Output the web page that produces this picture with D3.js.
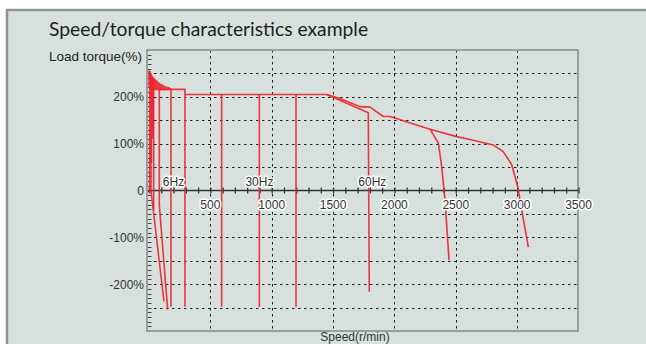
<!DOCTYPE html>
<html><head><meta charset="utf-8">
<script src="https://cdn.jsdelivr.net/npm/d3@7/dist/d3.min.js"></script>
<style>
html,body{margin:0;padding:0;background:#fff;}
svg{display:block;}
</style></head>
<body>
<svg id="c" width="646" height="344"></svg>
<script>
// ---- data ----
const title = "Speed/torque characteristics example";
const yTitle = "Load torque(%)";
const xTitle = "Speed(r/min)";
const xTicks = [0, 500, 1000, 1500, 2000, 2500, 3000, 3500];
const xTickLabels = ["", "500", "1000", "1500", "2000", "2500", "3000", "3500"];
const yTicks = [200, 100, 0, -100, -200];
const yTickLabels = ["200%", "100%", "0", "-100%", "-200%"];
const hzLabels = ["6Hz", "30Hz", "60Hz"];
const hzSpeeds = [200, 900, 1820];

// noisy low-speed start (speed r/min, torque %)
const startNoise = [[0,257],[2,222],[4,254],[6,218],[8,252],[10,216],[12,249],[14,218],[16,247],[19,215],[22,245],[25,217],[28,243],[31,215],[34,241],[37,216],[40,239],[44,215],[48,237],[52,216],[56,235],[60,215],[64,233],[68,216],[72,231],[77,215],[82,229],[87,216],[92,227],[98,215],[104,226],[110,216],[116,224],[123,215],[130,222],[138,216],[146,221],[154,215],[162,220],[170,216],[179,218]];
const curve0a = [[6,255],[6,-5]];
const curve0b = [[16,246],[16,0],[122,-237]];
const curve0c = [[20,244],[20,60]];
const curve0d = [[26,242],[26,110]];
const curve0e = [[32,240],[32,130]];
const curve0f = [[38,236],[38,-42]];
const curve3Hz = [[84,216],[84,-31],[152,-254]];
const curve6Hz = [[179,218],[179,-248]];
const curve10Hz = [[84,216],[293,216],[293,-248]];
const curve20Hz = [[293,205],[592,205],[592,-248]];
const curve30Hz = [[592,205],[899,205],[899,-248]];
const curve40Hz = [[899,205],[1198,205],[1198,-248]];
const curve60Hz = [[1198,205],[1450,205],[1787,166],[1795,-216]];
const curve80Hz = [[1450,205],[1560,196],[1720,179],[1801,178],[1909,158],[1964,158],[2290,131],[2358,101],[2385,51],[2412,-20],[2445,-149]];
const curve100Hz = [[2290,131],[2507,115],[2616,109],[2806,97],[2887,83],[2956,55],[3005,8],[3023,-20],[3091,-121]];
const allCurves = [startNoise, curve0a, curve0b, curve0c, curve0d, curve0e, curve0f, curve3Hz, curve6Hz, curve10Hz, curve20Hz, curve30Hz, curve40Hz, curve60Hz, curve80Hz, curve100Hz];

// ---- drawing ----
const svg = d3.select("#c");
const bg = "#d7e0dc";
// panel
svg.append("rect").attr("x", 7).attr("y", 10).attr("width", 660).attr("height", 360)
  .attr("fill", bg).attr("stroke", "#8e9294").attr("stroke-width", 2.5);

const L = 148, R = 578, T = 50, B = 331;
const x = d3.scaleLinear().domain([0, 3500]).range([149, 578.5]);
const y = d3.scaleLinear().domain([-300, 300]).range([B, T]);

// title
svg.append("text").attr("x", 49).attr("y", 36).text(title)
  .attr("font-family", "Lato, 'Open Sans', sans-serif").attr("font-size", 19.3).attr("fill", "#1e1e1e");
svg.append("text").attr("x", 49).attr("y", 61).text(yTitle)
  .attr("font-family", "'Liberation Sans', Arial, sans-serif").attr("font-size", 13.5).attr("fill", "#222");

// gridlines
const grid = svg.append("g").attr("stroke", "#1e1e1e").attr("stroke-width", 1).attr("stroke-dasharray", "2.5,3.5");
grid.selectAll("line.v").data(xTicks.filter(d => d > 0 && d < 3500)).join("line")
  .attr("x1", d => Math.round(x(d)) + 0.5).attr("x2", d => Math.round(x(d)) + 0.5)
  .attr("y1", T).attr("y2", B);
const hGrid = d3.range(-250, 300, 50).filter(d => d !== 0);
grid.selectAll("line.h").data(hGrid).join("line")
  .attr("y1", d => Math.round(y(d)) + 0.5).attr("y2", d => Math.round(y(d)) + 0.5)
  .attr("x1", L).attr("x2", R);

// y minor ticks every 10%
svg.append("g").selectAll("line").data(d3.range(-290, 300, 10)).join("line")
  .attr("x1", L).attr("x2", L + 3.5)
  .attr("y1", d => Math.round(y(d)) + 0.5).attr("y2", d => Math.round(y(d)) + 0.5)
  .attr("stroke", "#444").attr("stroke-width", 1);

// frame
svg.append("rect").attr("x", L - 1).attr("y", T).attr("width", R - L + 1).attr("height", B - T)
  .attr("fill", "none").attr("stroke", "#9a9ea0").attr("stroke-width", 2);

// x axis at 0
const y0 = y(0);
const xAxis = d3.axisBottom(x).tickValues(d3.range(0, 3501, 100)).tickSize(6).tickFormat("");
const ax = svg.append("g").attr("transform", `translate(0,${y0 - 3})`).call(xAxis);
ax.select(".domain").remove();
ax.selectAll(".tick line").attr("stroke", "#333").attr("stroke-width", 1.3);
svg.append("line").attr("x1", L).attr("x2", R).attr("y1", y0).attr("y2", y0)
  .attr("stroke", "#333").attr("stroke-width", 1.6);

// curves
const line = d3.line().x(d => x(d[0])).y(d => y(d[1]));
svg.append("g").selectAll("path").data(allCurves).join("path")
  .attr("d", line).attr("fill", "none").attr("stroke", "#ec2730")
  .attr("stroke-width", 1.6).attr("stroke-opacity", 0.92).attr("stroke-linejoin", "round");

// x tick labels with halo
const halo = sel => sel.attr("paint-order", "stroke").attr("stroke", "#fff").attr("stroke-width", 3)
  .attr("stroke-linejoin", "round");
svg.append("g").selectAll("text").data(xTicks).join("text")
  .attr("x", d => x(d)).attr("y", y0 + 18).attr("text-anchor", "middle")
  .text((d, i) => xTickLabels[i])
  .attr("font-family", "'Liberation Sans', Arial, sans-serif").attr("font-size", 12).attr("fill", "#333")
  .call(halo);

// Hz labels
svg.append("g").selectAll("text").data(hzLabels).join("text")
  .attr("x", (d, i) => x(hzSpeeds[i])).attr("y", y0 - 4.5).attr("text-anchor", "middle")
  .text(d => d)
  .attr("font-family", "'Liberation Sans', Arial, sans-serif").attr("font-size", 12).attr("fill", "#333")
  .call(halo);

// y tick labels
svg.append("g").selectAll("text").data(yTicks).join("text")
  .attr("x", 144).attr("y", d => y(d) + 4.5).attr("text-anchor", "end")
  .text((d, i) => yTickLabels[i])
  .attr("font-family", "'Liberation Sans', Arial, sans-serif").attr("font-size", 12).attr("fill", "#333");

// x title
svg.append("text").attr("x", 355).attr("y", 341).attr("text-anchor", "middle").text(xTitle)
  .attr("font-family", "'Liberation Sans', Arial, sans-serif").attr("font-size", 12).attr("fill", "#333");
</script>
</body></html>
